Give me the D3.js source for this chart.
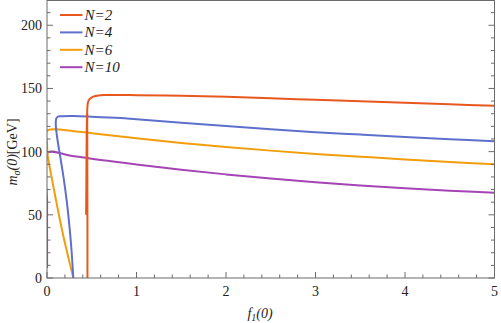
<!DOCTYPE html>
<html>
<head>
<meta charset="utf-8">
<script src="https://cdn.jsdelivr.net/npm/d3@7"></script>
<style>
  html, body { margin: 0; padding: 0; background: #fff; }
  svg { display: block; }
  text { font-family: "Liberation Serif", "DejaVu Serif", serif; }
</style>
</head>
<body>
<svg id="chart" width="501" height="323"></svg>
<script>
// ---- data ----
const seriesNames = ["N=2", "N=4", "N=6", "N=10"];
const seriesColors = ["#E8581E", "#5E70CC", "#F29E0C", "#A545B5"];

// N=2 : main branch (rises from m=0 at f≈0.45 then flattens)
const n2Main = [
  [0.452, 0], [0.452, 40], [0.451, 80], [0.450, 110], [0.449, 128], [0.451, 135],
  [0.458, 139], [0.475, 141.5], [0.51, 143.3], [0.56, 144.3], [0.65, 144.8],
  [0.8, 144.9], [1.0, 144.7], [1.5, 144.2], [2.0, 143.4], [2.5, 142.3],
  [3.0, 141.0], [3.5, 139.8], [4.0, 138.6], [4.5, 137.4], [5.0, 136.3]
];
// N=2 : short lower branch
const n2Branch = [[0.437, 50], [0.440, 80], [0.443, 110], [0.446, 125], [0.449, 130]];

const n4 = [
  [0.294, 0], [0.276, 20], [0.252, 40], [0.222, 60], [0.186, 79], [0.148, 96],
  [0.118, 109], [0.100, 119], [0.098, 123], [0.104, 126.3], [0.12, 127.6],
  [0.15, 128], [0.3, 128.2], [0.5, 127.7], [0.82, 126.6], [1.0, 125.6],
  [1.5, 122.9], [2.0, 120.3], [2.5, 117.8], [3.0, 115.4], [3.5, 113.5],
  [4.0, 111.6], [4.5, 109.8], [5.0, 108.2]
];

const n6 = [
  [0.294, 0], [0.277, 5], [0.18, 34], [0.09, 65.5], [0.04, 84], [0.006, 98],
  [0.001, 106], [0.001, 116.5], [0.3, 116.2], [0.5, 114.6], [1.0, 110.6],
  [1.5, 106.9], [2.0, 103.6], [2.5, 100.8], [3.0, 98.2], [3.5, 96.0],
  [4.0, 93.8], [4.5, 91.8], [5.0, 90.0]
];

const n10 = [
  [0.001, 8], [0.001, 60], [0.001, 99], [0.25, 97], [0.5, 94.3], [1.0, 89.8],
  [1.5, 85.6], [2.0, 82.0], [2.5, 78.7], [3.0, 75.7], [3.5, 73.2],
  [4.0, 71.0], [4.5, 69.1], [5.0, 67.4]
];

const xTicks = [0, 1, 2, 3, 4, 5];
const yTicks = [0, 50, 100, 150, 200];

// ---- layout ----
const svg = d3.select("#chart");
const pL = 47, pR = 494.5, pT = 0.5, pB = 278;
const x = d3.scaleLinear().domain([0, 5]).range([pL, pR]);
const y = d3.scaleLinear().domain([0, 219.6]).range([pB, pT]);

const frameColor = "#6b6b6b";

svg.append("defs").append("clipPath").attr("id", "clip")
  .append("rect").attr("x", pL).attr("y", pT).attr("width", pR - pL).attr("height", pB - pT);

// curves
const g = svg.append("g").attr("clip-path", "url(#clip)");
const curves = [
  { data: n10, c: 3 }, { data: n6, c: 2 }, { data: n4, c: 1 },
  { data: n2Branch, c: 0 }, { data: n2Main, c: 0 }
];
const lineGen = d3.line().x(d => x(d[0])).y(d => y(d[1])).curve(d3.curveCatmullRom.alpha(0.5));
curves.forEach(s => {
  g.append("path").datum(s.data)
    .attr("d", lineGen)
    .attr("fill", "none").attr("stroke", seriesColors[s.c])
    .attr("stroke-width", 2).attr("stroke-linejoin", "round");
});

// frame
const fr = svg.append("g");
fr.append("rect").attr("x", pL).attr("y", pT).attr("width", pR - pL).attr("height", pB - pT)
  .attr("fill", "none").attr("stroke", frameColor).attr("stroke-width", 1);

const xMinor = d3.range(0, 26).map(i => i * 0.2);
fr.selectAll(".xt").data(xMinor).enter().append("line")
  .attr("x1", d => x(d)).attr("x2", d => x(d))
  .attr("y1", pB).attr("y2", (d, i) => pB - (i % 5 === 0 ? 6 : 3.5))
  .attr("stroke", frameColor);

const yMinor = d3.range(0, 220, 10);
fr.selectAll(".yl").data(yMinor).enter().append("line")
  .attr("x1", pL).attr("x2", d => pL + (d % 50 === 0 ? 6 : 3.5))
  .attr("y1", d => y(d)).attr("y2", d => y(d)).attr("stroke", frameColor);
fr.selectAll(".yr").data(yMinor).enter().append("line")
  .attr("x1", pR).attr("x2", d => pR - (d % 50 === 0 ? 6 : 3.5))
  .attr("y1", d => y(d)).attr("y2", d => y(d)).attr("stroke", frameColor);

// tick labels
svg.selectAll(".xl").data(xTicks).enter().append("text")
  .attr("x", d => x(d)).attr("y", 296).attr("text-anchor", "middle")
  .attr("font-size", 14).attr("fill", "#222").text(d => d);
svg.selectAll(".ylb").data(yTicks).enter().append("text")
  .attr("x", 42).attr("y", d => y(d) + 5).attr("text-anchor", "end")
  .attr("font-size", 14).attr("fill", "#222").text(d => d);

// axis labels
const xl = svg.append("text").attr("x", 260).attr("y", 318).attr("text-anchor", "middle")
  .attr("font-size", 14).attr("font-style", "italic").attr("fill", "#222");
xl.append("tspan").text("f");
xl.append("tspan").attr("font-size", 10).attr("dy", 3).text("1");
xl.append("tspan").attr("dy", -3).text("(0)");

const yl = svg.append("text").attr("transform", "translate(17,152) rotate(-90)")
  .attr("text-anchor", "middle").attr("font-size", 14).attr("fill", "#222");
yl.append("tspan").attr("font-style", "italic").text("m");
yl.append("tspan").attr("font-style", "italic").attr("font-size", 10).attr("dy", 3).text("σ");
yl.append("tspan").attr("font-style", "italic").attr("dy", -3).text("(0)");
yl.append("tspan").text("[GeV]");

// legend
const lg = svg.append("g");
seriesNames.forEach((n, i) => {
  const yy = 15 + i * 17.4;
  lg.append("line").attr("x1", 60).attr("x2", 82.5).attr("y1", yy).attr("y2", yy)
    .attr("stroke", seriesColors[i]).attr("stroke-width", 2);
  lg.append("text").attr("x", 84.5).attr("y", yy + 5).attr("font-size", 15)
    .attr("font-style", "italic").attr("fill", "#222").text(n);
});
</script>
</body>
</html>
